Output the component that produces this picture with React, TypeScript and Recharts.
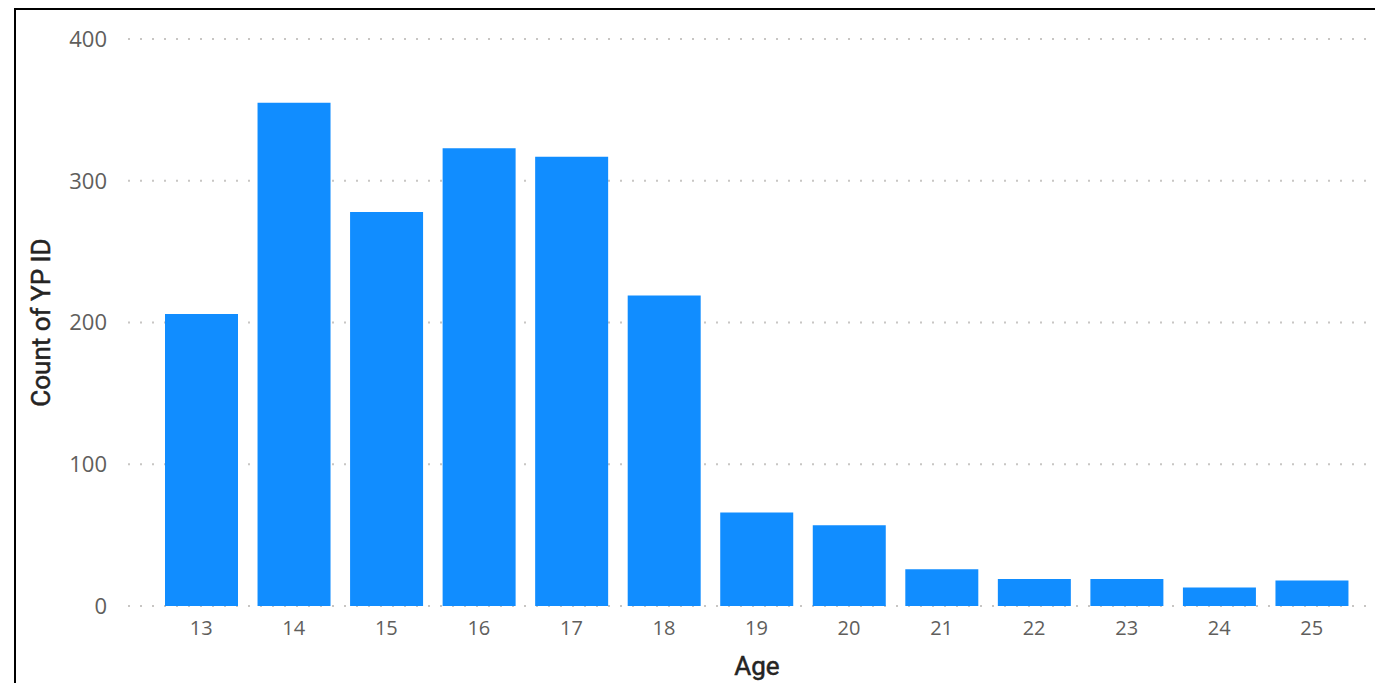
import { BarChart, Bar, XAxis, YAxis, CartesianGrid } from 'recharts';

const ages = ['13', '14', '15', '16', '17', '18', '19', '20', '21', '22', '23', '24', '25'];
const counts = [206, 355, 278, 323, 317, 219, 66, 57, 26, 19, 19, 13, 18];
const yTicks = [0, 100, 200, 300, 400];

const data = ages.map((age, i) => ({ age, count: counts[i] }));

// axis titles: regular weight with a thin outline, close to the medium weight in the picture
const titleStyle = { stroke: '#252423', strokeWidth: 0.5 };

export default function App() {
  return (
    <div style={{ position: 'fixed', inset: 0, overflow: 'hidden', background: '#fff' }}>
      <div
        style={{
          position: 'absolute',
          left: 14,
          top: 8,
          width: 1361,
          height: 675,
          borderTop: '2px solid #000',
          borderLeft: '2px solid #000',
        }}
      >
        <BarChart
          width={1359}
          height={673}
          data={data}
          margin={{ top: 29, right: 9, bottom: 0, left: 0 }}
        >
          <CartesianGrid
            vertical={false}
            stroke="#C8C6C4"
            strokeWidth={2}
            strokeDasharray="2 10"
          />
          <XAxis
            dataKey="age"
            height={77}
            padding={{ left: 27, right: 8 }}
            axisLine={false}
            tickLine={false}
            tickSize={0}
            tickMargin={15}
            tick={{ fill: '#605E5C', fontSize: 20, fontFamily: 'Open Sans' }}
            label={{
              value: 'Age',
              position: 'insideBottom',
              offset: 8,
              dx: 10,
              fill: '#252423',
              fontSize: 26,
              fontFamily: 'Roboto',
              style: titleStyle,
            }}
          />
          <YAxis
            width={112}
            domain={[0, 400]}
            ticks={yTicks}
            axisLine={false}
            tickLine={false}
            tickSize={0}
            tickMargin={21}
            tick={{ fill: '#605E5C', fontSize: 22, fontFamily: 'Open Sans' }}
            label={{
              value: 'Count of YP ID',
              angle: -90,
              position: 'insideLeft',
              offset: 25,
              style: { ...titleStyle, textAnchor: 'middle' },
              fill: '#252423',
              fontSize: 26,
              fontFamily: 'Roboto',
            }}
          />
          <Bar dataKey="count" fill="#118DFF" barSize={73} isAnimationActive={false} />
        </BarChart>
      </div>
    </div>
  );
}
